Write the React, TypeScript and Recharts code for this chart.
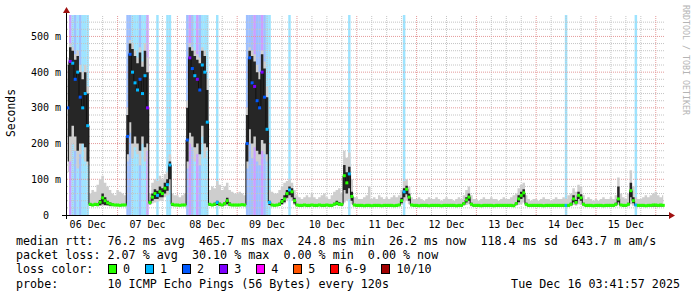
import React from 'react'
import { ComposedChart, Area, Line, XAxis, YAxis, ReferenceLine, ReferenceArea } from 'recharts'

// hourly samples, hours counted from 06 Dec 00:00, first sample 06 Dec 04:00
const firstHour = 4

const dayLabels = ['06 Dec', '07 Dec', '08 Dec', '09 Dec', '10 Dec', '11 Dec', '12 Dec', '13 Dec', '14 Dec', '15 Dec']
const yTicks = [0, 100, 200, 300, 400, 500]

// median rtt (ms)
const median = [
    300, 430, 425, 380, 400, 330, 300, 340, 250, 30, 28, 30, 29, 36, 48, 40, 34, 31, 29, 28,
    28, 27, 28, 28, 220, 450, 400, 370, 350, 380, 340, 390, 300, 35, 50, 60, 55, 65, 60, 75, 85, 140, 30, 28,
    28, 27, 28, 28, 210, 440, 410, 390, 380, 350, 420, 400, 260, 30, 28, 30, 35, 30, 28, 32, 40, 30, 28, 28,
    28, 28, 29, 28, 200, 440, 370, 360, 320, 300, 400, 330, 240, 35, 28, 27, 28, 30, 38, 45, 60, 70, 65, 40,
    28, 27, 27, 28, 27, 27, 28, 27, 27, 28, 27, 27, 28, 27, 27, 30, 33, 30, 30, 110, 90, 115, 52, 28,
    27, 27, 27, 26, 27, 27, 26, 27, 27, 27, 26, 27, 27, 27, 27, 26, 27, 28, 40, 65, 72, 50, 28, 27,
    27, 26, 27, 27, 27, 26, 27, 27, 27, 27, 26, 27, 27, 27, 27, 27, 26, 27, 27, 32, 42, 50, 30, 27,
    27, 27, 26, 27, 27, 27, 27, 26, 27, 27, 27, 27, 27, 27, 27, 26, 32, 45, 55, 62, 30, 27, 27, 27,
    27, 27, 27, 26, 27, 27, 27, 27, 27, 27, 27, 27, 27, 27, 30, 45, 35, 55, 48, 30, 27, 27, 27, 26,
    27, 27, 27, 26, 27, 27, 27, 27, 30, 45, 28, 27, 27, 30, 68, 40, 28, 27, 27, 27, 26, 27, 27, 28,
    28, 27, 28, 27,
]

// lost pings out of 10
const loss = [
    2, 3, 1, 2, 1, 2, 1, 1, 1, 0, 0, 0, 0, 0, 0, 0, 0, 0, 0, 0,
    0, 0, 0, 0, 2, 2, 1, 1, 1, 2, 1, 1, 3, 0, 0, 0, 1, 0, 0, 0, 1, 1, 0, 0,
    0, 0, 0, 0, 2, 3, 2, 1, 3, 2, 1, 1, 1, 0, 0, 0, 1, 0, 0, 0, 0, 0, 0, 0,
    0, 0, 0, 0, 2, 2, 2, 3, 2, 2, 3, 2, 1, 1, 0, 0, 0, 0, 0, 0, 0, 1, 0, 0,
    0, 0, 0, 0, 0, 0, 0, 0, 0, 0, 0, 0, 0, 0, 0, 0, 0, 0, 0, 0, 0, 1, 0, 0,
    0, 0, 0, 0, 0, 0, 0, 0, 0, 0, 0, 0, 0, 0, 0, 0, 0, 0, 0, 1, 0, 0, 0, 0,
    0, 0, 0, 0, 0, 0, 0, 0, 0, 0, 0, 0, 0, 0, 0, 0, 0, 0, 0, 0, 0, 0, 0, 0,
    0, 0, 0, 0, 0, 0, 0, 0, 0, 0, 0, 0, 0, 0, 0, 0, 0, 0, 0, 0, 0, 0, 0, 0,
    0, 0, 0, 0, 0, 0, 0, 0, 0, 0, 0, 0, 1, 0, 0, 0, 0, 0, 0, 0, 0, 0, 0, 0,
    0, 0, 0, 0, 0, 0, 0, 0, 0, 0, 0, 0, 0, 0, 0, 0, 1, 0, 0, 0, 0, 0, 0, 0,
    0, 0, 0, 0,
]

// smoke: slowest / fastest ping (ms)
const smokeHi = [
    440, 480, 470, 450, 460, 420, 400, 420, 360, 60, 70, 65, 85, 100, 110, 90, 80, 70, 60, 55,
    70, 65, 60, 55, 300, 490, 480, 460, 440, 470, 430, 480, 440, 60, 90, 100, 95, 110, 100, 115, 120, 170, 60, 55,
    55, 50, 55, 60, 320, 480, 470, 460, 450, 440, 470, 460, 380, 70, 80, 75, 95, 85, 70, 80, 90, 70, 65, 60,
    60, 65, 60, 55, 300, 470, 460, 450, 420, 400, 460, 430, 360, 70, 65, 60, 60, 70, 80, 90, 95, 100, 90, 70,
    55, 50, 45, 50, 55, 50, 60, 50, 45, 50, 55, 60, 50, 45, 55, 65, 70, 75, 60, 180, 160, 175, 100, 50,
    50, 45, 45, 50, 55, 80, 45, 50, 45, 55, 50, 45, 50, 45, 50, 55, 50, 55, 70, 95, 100, 80, 50, 45,
    45, 50, 45, 40, 45, 50, 45, 45, 50, 45, 40, 45, 50, 45, 45, 40, 45, 50, 45, 55, 70, 80, 55, 45,
    45, 40, 45, 50, 45, 45, 50, 45, 45, 40, 45, 50, 45, 45, 50, 55, 60, 75, 85, 90, 55, 45, 40, 45,
    45, 40, 45, 50, 45, 45, 40, 45, 50, 45, 45, 50, 45, 55, 60, 75, 65, 85, 80, 55, 45, 50, 45, 40,
    45, 40, 45, 50, 45, 45, 50, 45, 55, 105, 60, 50, 45, 60, 125, 80, 50, 45, 45, 50, 55, 50, 55, 60,
    65, 55, 50, 55,
]
const smokeLo = [
    120, 150, 200, 180, 130, 170, 200, 150, 140, 25, 24, 25, 24, 25, 26, 25, 25, 24, 24, 24,
    24, 24, 24, 24, 150, 230, 160, 190, 170, 140, 200, 150, 180, 28, 32, 35, 38, 40, 42, 50, 55, 70, 24, 24,
    24, 24, 24, 24, 130, 200, 190, 150, 170, 140, 220, 160, 180, 25, 24, 25, 25, 24, 24, 25, 25, 24, 24, 24,
    24, 24, 24, 24, 130, 200, 160, 190, 150, 140, 180, 170, 150, 25, 24, 24, 24, 25, 28, 32, 40, 45, 40, 28,
    24, 24, 23, 24, 24, 23, 24, 24, 23, 24, 24, 24, 23, 24, 24, 25, 26, 25, 24, 35, 40, 45, 30, 24,
    23, 24, 23, 23, 24, 23, 23, 24, 23, 24, 23, 23, 24, 23, 23, 24, 23, 24, 28, 35, 40, 30, 24, 23,
    23, 23, 24, 23, 23, 23, 24, 23, 23, 23, 23, 24, 23, 23, 23, 24, 23, 23, 23, 25, 28, 30, 24, 23,
    23, 24, 23, 23, 23, 24, 23, 23, 23, 23, 24, 23, 23, 23, 24, 23, 25, 28, 30, 35, 24, 23, 23, 24,
    23, 23, 24, 23, 23, 23, 23, 24, 23, 23, 23, 24, 23, 23, 24, 28, 26, 30, 28, 24, 23, 23, 24, 23,
    23, 23, 24, 23, 23, 23, 24, 23, 24, 28, 24, 23, 23, 24, 30, 26, 23, 23, 24, 23, 23, 23, 24, 23,
    24, 23, 24, 23,
]
// dense part of the smoke (ms)
const coreHi = [
    420, 470, 460, 435, 445, 400, 380, 400, 340, 32, 30, 33, 32, 42, 60, 50, 40, 35, 32, 30,
    30, 30, 31, 30, 280, 480, 465, 445, 425, 455, 415, 460, 400, 40, 60, 72, 68, 80, 75, 90, 100, 150, 32, 30,
    30, 30, 30, 31, 300, 470, 460, 445, 435, 425, 460, 445, 350, 33, 31, 34, 40, 34, 31, 36, 48, 35, 31, 30,
    30, 30, 31, 30, 280, 460, 445, 430, 400, 380, 450, 410, 330, 40, 31, 30, 31, 34, 45, 55, 70, 80, 75, 48,
    30, 29, 29, 30, 29, 29, 30, 29, 29, 30, 29, 29, 30, 29, 29, 34, 40, 36, 33, 140, 120, 135, 65, 30,
    29, 29, 29, 28, 29, 29, 28, 29, 29, 29, 28, 29, 29, 29, 29, 28, 29, 31, 48, 75, 82, 60, 30, 29,
    29, 28, 29, 29, 29, 28, 29, 29, 29, 29, 28, 29, 29, 29, 29, 29, 28, 29, 29, 36, 50, 60, 34, 29,
    29, 29, 28, 29, 29, 29, 29, 28, 29, 29, 29, 29, 29, 29, 29, 28, 36, 55, 65, 72, 34, 29, 29, 29,
    29, 29, 29, 28, 29, 29, 29, 29, 29, 29, 29, 29, 29, 29, 34, 55, 42, 65, 58, 34, 29, 29, 29, 28,
    29, 29, 29, 28, 29, 29, 29, 29, 34, 80, 31, 29, 29, 34, 90, 50, 30, 29, 29, 29, 28, 29, 29, 30,
    30, 29, 30, 29,
]
const coreLo = [
    150, 220, 250, 220, 180, 200, 200, 190, 150, 26, 25, 26, 25, 27, 30, 28, 27, 26, 25, 25,
    25, 25, 25, 25, 170, 260, 200, 220, 200, 180, 220, 190, 200, 30, 40, 45, 45, 50, 50, 60, 68, 100, 25, 25,
    25, 25, 25, 25, 150, 230, 220, 190, 200, 170, 250, 200, 190, 26, 25, 26, 28, 26, 25, 27, 30, 26, 25, 25,
    25, 25, 25, 25, 150, 240, 200, 220, 180, 170, 210, 200, 170, 28, 25, 25, 25, 26, 30, 36, 48, 55, 50, 32,
    25, 24, 24, 25, 24, 24, 25, 24, 24, 25, 24, 24, 25, 24, 24, 27, 28, 27, 26, 70, 60, 75, 40, 25,
    24, 24, 24, 24, 24, 24, 24, 24, 24, 24, 24, 24, 24, 24, 24, 24, 24, 25, 33, 50, 58, 40, 25, 24,
    24, 24, 24, 24, 24, 24, 24, 24, 24, 24, 24, 24, 24, 24, 24, 24, 24, 24, 24, 28, 35, 40, 27, 24,
    24, 24, 24, 24, 24, 24, 24, 24, 24, 24, 24, 24, 24, 24, 24, 24, 28, 36, 45, 50, 27, 24, 24, 24,
    24, 24, 24, 24, 24, 24, 24, 24, 24, 24, 24, 24, 24, 24, 27, 36, 30, 45, 40, 27, 24, 24, 24, 24,
    24, 24, 24, 24, 24, 24, 24, 24, 27, 36, 25, 24, 24, 27, 50, 33, 25, 24, 24, 24, 24, 24, 24, 24,
    24, 24, 24, 24,
]

const lossLegend = [
    { label: '0', color: '#26ff00' },
    { label: '1', color: '#00b8ff' },
    { label: '2', color: '#0059ff' },
    { label: '3', color: '#7e00ff' },
    { label: '4', color: '#ff00ff' },
    { label: '5', color: '#ff5500' },
    { label: '6-9', color: '#ff0000' },
    { label: '10/10', color: '#a10000' },
]

const lossColor = (n: number) => {
    if (n <= 5) return lossLegend[n].color
    if (n < 10) return lossLegend[6].color
    return lossLegend[7].color
}

const data = median.map((m, i) => ({
    h: firstHour + i,
    median: m,
    loss: loss[i],
    smoke: [smokeLo[i], smokeHi[i]],
    core: [coreLo[i], coreHi[i]],
}))

const xDomain = [3.7, 243.7]
const dayTicks = dayLabels.map((_, i) => 12 + i * 24)
const minorX: number[] = []
const majorX: number[] = []
for (let h = 6; h <= 240; h += 6) (h % 24 === 0 ? majorX : minorX).push(h)
const minorY: number[] = []
const majorY: number[] = []
for (let v = 20; v < 560; v += 20) (v % 100 === 0 ? majorY : minorY).push(v)

const mono = '"DejaVu Sans Mono", monospace'

const YTick = ({ x, y, payload }: any) => (
    <text x={x} y={y} dy={3.5} textAnchor="end" fontSize={10} fontFamily={mono} fill="#000">
        {payload.value === 0 ? '0\u00a0\u00a0' : `${payload.value}\u00a0m`}
    </text>
)

const MedianDot = (props: any) => {
    const { cx, cy, payload, index } = props
    if (cx == null || cy == null) return <g key={index} />
    return <rect key={index} x={cx - 1.5} y={cy - 1.5} width={3} height={3} fill={lossColor(payload.loss)} />
}

const textLine = (top: number): React.CSSProperties => ({
    position: 'absolute',
    left: 16,
    top,
    fontFamily: mono,
    fontSize: 11.7,
    lineHeight: '14px',
    whiteSpace: 'pre',
    color: '#000',
})

export default function App() {
    return (
        <div style={{ position: 'absolute', left: 0, top: 0, width: 697, height: 297, background: '#fff', overflow: 'hidden' }}>
            <ComposedChart width={697} height={297} data={data} margin={{ top: 15, right: 32, bottom: 62, left: 7 }}>
                {data.filter(d => d.loss > 0).map(d => (
                    <ReferenceArea
                        key={`loss-${d.h}`}
                        x1={d.h - 0.5}
                        x2={d.h + 0.5}
                        fill={lossColor(d.loss)}
                        fillOpacity={0.38}
                        stroke="none"
                        zIndex={-60}
                    />
                ))}
                {minorY.map(v => <ReferenceLine key={`my${v}`} y={v} stroke="#c4c4c4" strokeDasharray="1 1" zIndex={-50} />)}
                {minorX.map(v => <ReferenceLine key={`mx${v}`} x={v} stroke="#c4c4c4" strokeDasharray="1 1" zIndex={-50} />)}
                {majorY.map(v => <ReferenceLine key={`My${v}`} y={v} stroke="#e49a9a" strokeDasharray="1 1" zIndex={-40} />)}
                {majorX.map(v => <ReferenceLine key={`Mx${v}`} x={v} stroke="#e49a9a" strokeDasharray="1 1" zIndex={-40} />)}
                <XAxis
                    type="number"
                    dataKey="h"
                    domain={xDomain}
                    ticks={dayTicks}
                    tickFormatter={(v: number) => dayLabels[Math.round((v - 12) / 24)]}
                    tick={{ fontSize: 10, fontFamily: mono, fill: '#000' }}
                    tickLine={false}
                    axisLine={false}
                    tickSize={4}
                    tickMargin={2}
                    height={20}
                    allowDataOverflow
                />
                <YAxis
                    type="number"
                    domain={[0, 560]}
                    ticks={yTicks}
                    tick={<YTick />}
                    tickLine={false}
                    axisLine={false}
                    tickSize={4}
                    tickMargin={2}
                    width={60}
                    allowDataOverflow
                />
                <Area type="step" dataKey="smoke" fill="#cecece" fillOpacity={1} stroke="none" zIndex={101} isAnimationActive={false} />
                <Area type="step" dataKey="core" fill="#262626" fillOpacity={1} stroke="none" zIndex={102} isAnimationActive={false} />
                <Line
                    type="step"
                    dataKey="median"
                    stroke="#111"
                    strokeWidth={1}
                    dot={MedianDot}
                    activeDot={false}
                    isAnimationActive={false}
                />
            </ComposedChart>

            {/* axes with rrdtool arrows */}
            <svg width={697} height={297} style={{ position: 'absolute', left: 0, top: 0, pointerEvents: 'none' }}>
                <line x1={62} y1={215.5} x2={670} y2={215.5} stroke="#000" strokeWidth={1} />
                <line x1={66.5} y1={219} x2={66.5} y2={11} stroke="#000" strokeWidth={1} />
                <polygon points="669,212 675,215.5 669,219" fill="#a01010" />
                <polygon points="63,13 66.5,7 70,13" fill="#a01010" />
            </svg>

            <div
                style={{
                    position: 'absolute',
                    left: 4,
                    top: 89,
                    writingMode: 'vertical-rl',
                    transform: 'rotate(180deg)',
                    fontFamily: mono,
                    fontSize: 11.4,
                    lineHeight: '14px',
                    color: '#000',
                }}
            >
                Seconds
            </div>
            <div
                style={{
                    position: 'absolute',
                    left: 681,
                    top: 5,
                    writingMode: 'vertical-rl',
                    fontFamily: mono,
                    fontSize: 8.3,
                    lineHeight: '10px',
                    color: '#b4b4b4',
                }}
            >
                RRDTOOL / TOBI OETIKER
            </div>

            <div style={textLine(234)}>
                {'median rtt:  76.2 ms avg  465.7 ms max  24.8 ms min  26.2 ms now  118.4 ms sd  643.7 m am/s'}
            </div>
            <div style={textLine(248)}>{'packet loss: 2.07 % avg  30.10 % max  0.00 % min  0.00 % now'}</div>
            <div style={{ ...textLine(262), display: 'flex', alignItems: 'center' }}>
                <span style={{ width: 92 }}>loss color:</span>
                {lossLegend.map(item => (
                    <span key={item.label} style={{ display: 'flex', alignItems: 'center', marginRight: 15 }}>
                        <span
                            style={{
                                display: 'inline-block',
                                width: 9,
                                height: 10,
                                background: item.color,
                                border: '1px solid #000',
                                boxSizing: 'border-box',
                                marginRight: 6,
                            }}
                        />
                        {item.label}
                    </span>
                ))}
            </div>
            <div style={textLine(277)}>{'probe:       10 ICMP Echo Pings (56 Bytes) every 120s'}</div>
            <div style={{ ...textLine(277), left: 'auto', right: 17 }}>Tue Dec 16 03:41:57 2025</div>
        </div>
    )
}
